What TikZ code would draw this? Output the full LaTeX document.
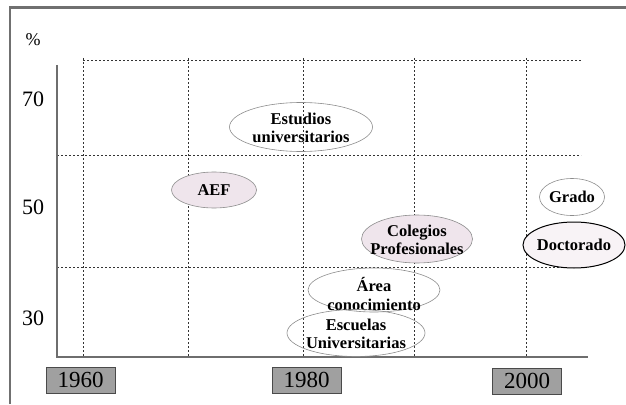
\documentclass[tikz,border=0pt]{standalone}
\usepackage{fontspec}
\setmainfont{Liberation Serif}
\usetikzlibrary{shapes.geometric}
\definecolor{framegray}{HTML}{707070}
\definecolor{axisgray}{HTML}{6E6E6E}
\definecolor{gridc}{HTML}{333333}
\definecolor{boxfill}{HTML}{A0A0A0}
\definecolor{boxedge}{HTML}{4A4A4A}
\definecolor{pinkfill}{HTML}{EFE5EC}
\definecolor{lightpink}{HTML}{F8F3F6}
\definecolor{ellgray}{HTML}{8C8C8C}
\tikzset{
  gridline/.style={gridc, line width=0.9pt, dash pattern=on 2pt off 2pt},
  axisline/.style={axisgray, line width=1.2pt},
  yearbox/.style={draw=boxedge, fill=boxfill, line width=0.8pt, minimum width=69pt, minimum height=26pt, inner sep=0pt, font=\fontsize{23}{23}\selectfont},
  ticklab/.style={font=\fontsize{22}{22}\selectfont, inner sep=0pt},
  ell/.style={ellipse, draw=ellgray, line width=0.6pt, inner sep=0pt},
  elltext/.style={inner sep=0pt, align=center, font=\bfseries\fontsize{16.5}{18.5}\selectfont},
}
\begin{document}
\begin{tikzpicture}[x=1pt,y=-1pt]
\useasboundingbox (0,0) rectangle (626,404);
% frame (top and left)
\draw[framegray, line width=2.5pt] (10,404) -- (10,7.5) -- (626,7.5);
% grid
\coordinate (g1t) at (83,58); \coordinate (g1b) at (83,357);
\coordinate (g2t) at (188,58); \coordinate (g2b) at (188,357);
\coordinate (g3t) at (303,58); \coordinate (g3b) at (303,357);
\coordinate (g4t) at (414,58); \coordinate (g4b) at (414,357);
\coordinate (g5t) at (526,58); \coordinate (g5b) at (526,357);
\draw[gridline] (g1t) -- (g1b);
\draw[gridline] (g2t) -- (g2b);
\draw[gridline] (g3t) -- (g3b);
\draw[gridline] (g4t) -- (g4b);
\draw[gridline] (g5t) -- (g5b);
\coordinate (h1l) at (83,60); \coordinate (h1r) at (581,60);
\coordinate (h2l) at (57,155); \coordinate (h2r) at (581,155);
\coordinate (h3l) at (57,267); \coordinate (h3r) at (581,267);
\draw[gridline] (h1l) -- (h1r);
\draw[gridline] (h2l) -- (h2r);
\draw[gridline] (h3l) -- (h3r);
% axes
\coordinate (ytop) at (57,65);
\coordinate (orig) at (57,357);
\coordinate (xend) at (588,357);
\draw[axisline] (ytop) -- (orig) -- (xend);
% axis labels
\node[font=\fontsize{18}{18}\selectfont, inner sep=0pt] (pct) at (33,40) {\%};
\node[ticklab] (l70) at (33,99) {70};
\node[ticklab] (l50) at (33,207) {50};
\node[ticklab] (l30) at (33,318) {30};
\node[yearbox] (y1960) at (80.5,380) {1960};
\node[yearbox] (y1980) at (306.5,380) {1980};
\node[yearbox] (y2000) at (527,381) {2000};
% ellipses
\node[ell, minimum width=143pt, minimum height=49pt] (est) at (301,127) {};
\node[elltext] (estT) at (301,128) {Estudios\\universitarios};
\node[ell, fill=pinkfill, minimum width=85pt, minimum height=36pt] (aef) at (214,190) {};
\node[elltext] (aefT) at (aef) {AEF};
\node[ell, minimum width=65pt, minimum height=37pt] (grado) at (572,197) {};
\node[elltext] (gradoT) at (grado) {Grado};
\node[ell, fill=pinkfill, minimum width=111pt, minimum height=48pt] (col) at (417,239) {};
\node[elltext] (colT) at (417,240) {Colegios\\Profesionales};
\node[ell, draw=black, line width=1pt, fill=lightpink, minimum width=102pt, minimum height=46pt] (doc) at (574,245) {};
\node[elltext] (docT) at (doc) {Doctorado};
\node[ell, minimum width=132pt, minimum height=44pt] (area) at (374,290) {};
\node[elltext] (areaT) at (374,294) {Área\\conocimiento};
\node[ell, minimum width=138pt, minimum height=47pt] (esc) at (356,333) {};
\node[elltext] (escT) at (356,334) {Escuelas\\Universitarias};
\end{tikzpicture}
\end{document}
